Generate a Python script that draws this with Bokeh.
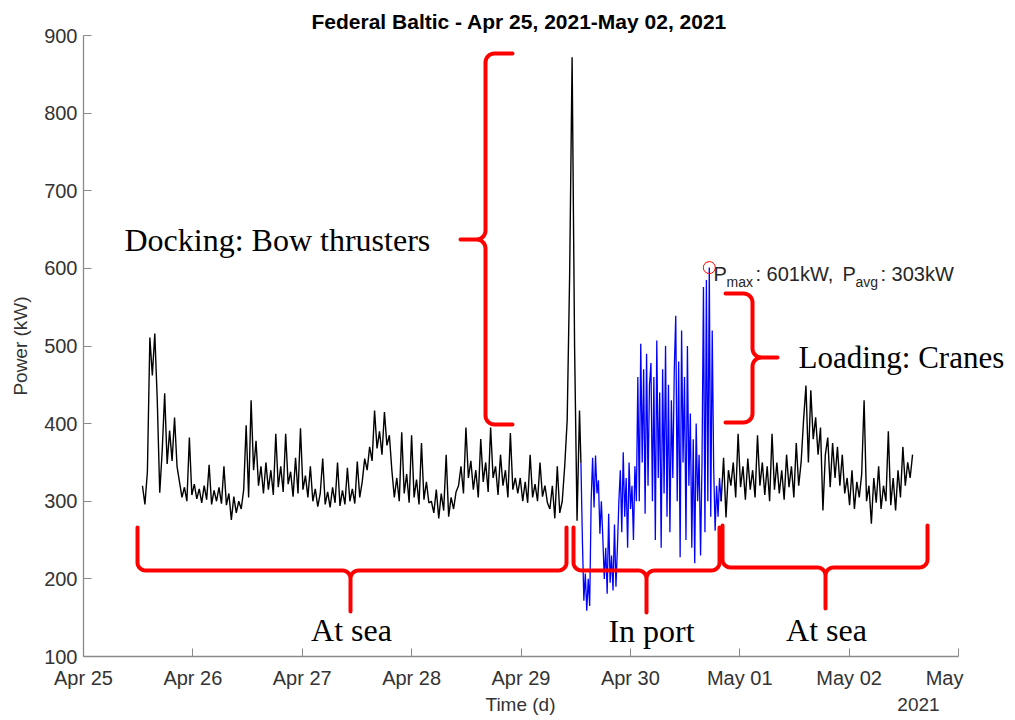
import numpy as np
from bokeh.plotting import figure
from bokeh.models import Label, FixedTicker, Range1d, LinearAxis
from bokeh.embed import file_html
from bokeh.resources import INLINE

# ---------------- data (power in kW, time in days since Apr 25 00:00) ----------------
sea1_power = [320, 296, 338, 511, 462, 516, 430, 311,
              365, 439, 348, 391, 352, 408, 345,
              325, 305, 318, 300, 382, 308, 322, 303,
              316, 298, 320, 302, 347, 296, 314, 300, 318, 297, 345,
              295, 310, 276, 306, 285, 300, 290,
              315, 398, 305, 430, 340,
              378, 320, 345, 310, 350, 315, 340, 308, 387, 318, 345, 312, 387, 322, 338, 306, 356, 310, 394, 315, 333, 305, 345,
              300, 316, 293, 310, 355, 296, 312, 292, 318, 298, 350, 294, 314, 296, 343, 300, 316, 297, 351, 305,
              325, 355, 340, 370, 352, 417, 368, 390, 360, 415, 372, 385,
              340, 305, 330, 300, 389, 310, 335, 298, 385, 305, 328, 296, 375, 302, 325, 298,
              300, 285, 315, 278, 310, 288, 360, 280, 305, 290, 312,
              320, 345, 310, 395, 330, 352, 315, 340, 305, 380, 325, 350, 312, 395, 330, 345, 308, 360, 320, 340, 305, 388, 315, 330,
              310, 330, 300, 325, 298, 360, 305, 322, 300, 350, 306, 320, 298,
              290, 320, 278, 345, 285, 300,
              345, 404, 591, 872, 500, 275, 417]
port_power = [349, 250, 172, 207, 159, 200, 165,
              300, 356, 292, 359, 310,
              327, 258, 300,
              253, 200, 240, 181, 284, 195, 230, 185, 270, 190, 240,
              300, 340, 260, 363, 280, 330, 240, 350, 290, 320, 250, 345, 300,
              460, 300, 503, 350, 470, 284, 490, 320, 450,
              478, 300, 460, 250, 507, 330, 440, 240, 470, 310, 500, 280, 450, 260, 430, 330, 470,
              539, 300, 480, 228, 520, 350, 460, 250, 500, 320,
              413, 240, 380, 220, 400, 300, 360, 230, 350,
              576, 260, 585, 300, 601, 280, 520,
              343, 262, 320, 280, 330]
sea2_power = [300, 356, 279,
              340, 320, 350, 305, 387, 318, 345, 302, 355, 315, 340, 305, 385, 320, 350, 308, 345, 300, 387, 315, 350, 310, 340, 302, 360, 318, 345, 305, 375, 320,
              350, 404, 449, 350, 443, 380, 408, 360, 395,
              288,
              360, 382, 318, 375, 330, 370, 320, 360,
              310, 330, 295, 340, 290, 325, 305, 335, 430, 300, 320, 271, 330, 298, 345, 290, 320, 300, 390, 295, 330, 288, 340, 305, 370, 320, 350, 330, 360]
sea1_span = (0.539, 4.535)
port_span = (4.548, 5.815)
sea2_span = (5.830, 7.580)
tick_days = [0, 1, 2, 3, 4, 5, 6, 7, 8]
tick_labels = ["Apr 25", "Apr 26", "Apr 27", "Apr 28", "Apr 29", "Apr 30", "May 01", "May 02", "May"]
y_ticks = [100, 200, 300, 400, 500, 600, 700, 800, 900]
year_label = "2021"
title_text = "Federal Baltic - Apr 25, 2021-May 02, 2021"

t1 = np.linspace(*sea1_span, len(sea1_power))
t2 = np.linspace(*port_span, len(port_power))
t3 = np.linspace(*sea2_span, len(sea2_power))

# ---------------- layout helpers (pixel -> data) ----------------
L, R, T, B = 83, 1015, 35, 656
PXD = 109.375
PYK = (B - T) / 800.0
def dx(px):
    return (px - L) / PXD
def dy(py):
    return 100 + (B - py) / PYK

p = figure(width=1015, height=720, x_range=Range1d(0, dx(R)), y_range=Range1d(100, 900),
           min_border_left=L, min_border_right=0, min_border_top=T, min_border_bottom=720 - B,
           toolbar_location=None, output_backend="svg")
p.outline_line_color = None
p.grid.visible = False
p.background_fill_color = "white"

p.title.text = title_text
p.title.align = "left"
p.title.offset = 228
p.title.text_font = "Liberation Sans"
p.title.text_font_size = "21px"
p.title.text_font_style = "bold"
p.title.text_color = "black"
p.title.standoff = 6

axc = "#8a8a8a"
txc = "#333333"
def style_axis(ax):
    ax.axis_line_color = axc
    ax.axis_line_width = 1.3
    ax.major_tick_line_color = axc
    ax.major_tick_in = 8
    ax.major_tick_out = 0
    ax.minor_tick_line_color = None
    ax.major_label_text_font = "Liberation Sans"
    ax.major_label_text_font_size = "20px"
    ax.major_label_text_color = txc
    ax.axis_label_text_font = "Liberation Sans"
    ax.axis_label_text_font_size = "19px"
    ax.axis_label_text_font_style = "normal"
    ax.axis_label_text_color = txc

style_axis(p.xaxis[0])
style_axis(p.yaxis[0])
nb = "\u00a0" * 5
p.xaxis.ticker = FixedTicker(ticks=tick_days)
p.xaxis.major_label_overrides = {d: (lab if d != 8 else lab + nb) for d, lab in zip(tick_days, tick_labels)}
p.xaxis.bounds = (0, 8)
p.xaxis.major_label_standoff = 10
p.yaxis.ticker = FixedTicker(ticks=y_ticks)
p.yaxis.major_label_standoff = 6
p.yaxis.axis_label = "Power (kW)"
p.yaxis.axis_label_standoff = 10

# second row under the date ticks: "Time (d)" and the year, placed in pixel space
p.extra_x_ranges = {"px": Range1d(L, R)}
ax2 = LinearAxis(x_range_name="px", ticker=FixedTicker(ticks=[520, 918]),
                 major_label_overrides={520: "Time (d)", 918: year_label})
style_axis(ax2)
ax2.axis_line_color = None
ax2.major_tick_line_color = None
ax2.major_label_text_font_size = "19px"
ax2.major_label_standoff = 2
p.add_layout(ax2, "below")

# ---------------- series ----------------
p.line(list(t1) + [t2[0]], sea1_power + [port_power[0]], line_color="black", line_width=1.4)
p.line(list(t2) + [t3[0]], port_power + [sea2_power[0]], line_color="#0000ff", line_width=1.3)
p.line(t3, sea2_power, line_color="black", line_width=1.4)

imax = int(np.argmax(port_power))
p.scatter([t2[imax]], [port_power[imax]], marker="circle", size=12, fill_color=None,
          line_color="#ff0000", line_width=1)

# ---------------- braces ----------------
def brace_local(u0, u1, um, d, t, r):
    us, vs = [u0], [0.0]
    def arc(cu, cv, a0, a1):
        a = np.linspace(a0, a1, 10)
        us.extend(cu + r * np.cos(a)); vs.extend(cv + r * np.sin(a))
    arc(u0 + r, d - r, np.pi, np.pi / 2)
    arc(um - r, d + r, -np.pi / 2, 0)
    us.append(um); vs.append(t)
    arc(um + r, d + r, np.pi, 3 * np.pi / 2)
    arc(u1 - r, d - r, np.pi / 2, 0)
    us.append(u1); vs.append(0.0)
    return np.array(us), np.array(vs)

def hbrace(x0, x1, xm, ytop, ybar, ytip, r=8):
    u, v = brace_local(x0, x1, xm, ybar - ytop, ytip - ytop, r)
    return [dx(a) for a in u], [dy(ytop + b) for b in v]

def vbrace(y0, y1, ym, xbase, xbar, xtip, r=9):
    s = 1 if xtip > xbase else -1
    u, v = brace_local(y0, y1, ym, abs(xbar - xbase), abs(xtip - xbase), r)
    return [dx(xbase + s * b) for b in v], [dy(a) for a in u]

braces = [hbrace(137, 566, 350, 527, 570, 611),
          hbrace(573, 719, 646, 527, 570, 612),
          hbrace(722, 927, 825, 525, 567, 608),
          vbrace(53, 424, 239, 512, 485, 460),
          vbrace(293, 422, 357, 725, 752, 777)]
for bx, by in braces:
    p.line(bx, by, line_color="#ff0000", line_width=4, line_join="round", line_cap="round")

# ---------------- texts ----------------
def lab(px, py, text, font="Liberation Serif", size="32px", align="left", base="alphabetic",
        color="black", style="normal"):
    p.add_layout(Label(x=dx(px), y=dy(py), text=text, text_font=font, text_font_size=size,
                       text_align=align, text_baseline=base, text_color=color,
                       text_font_style=style))

lab(124, 239, "Docking: Bow thrusters")
lab(798, 357, "Loading: Cranes", size="31px")
lab(351, 629, "At sea", align="center")
lab(651, 630, "In port", align="center")
lab(826, 629, "At sea", align="center")

sans = "Liberation Sans"
lab(713, 273, "P", font=sans, size="20px", color="#262626")
lab(726, 281, "max", font=sans, size="14px", color="#262626")
lab(755, 273, ": 601kW,", font=sans, size="20px", color="#262626")
lab(842, 273, "P", font=sans, size="20px", color="#262626")
lab(855, 281, "avg", font=sans, size="14px", color="#262626")
lab(880, 273, ": 303kW", font=sans, size="20px", color="#262626")

open("out.html", "w").write(file_html(p, INLINE))
